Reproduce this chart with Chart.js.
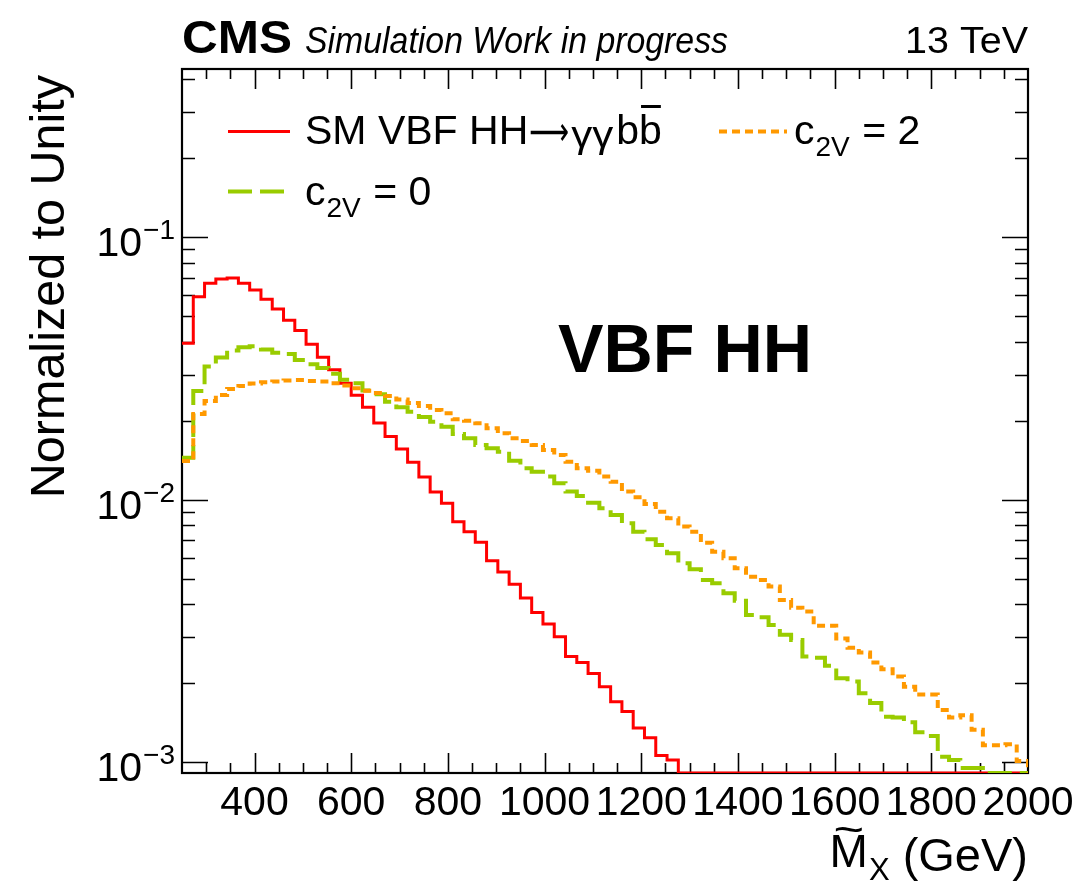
<!DOCTYPE html>
<html>
<head>
<meta charset="utf-8">
<title>VBF HH</title>
<script src="https://cdn.jsdelivr.net/npm/chart.js@4.4.0/dist/chart.umd.min.js"></script>
<style>
  html, body { margin: 0; padding: 0; background: #ffffff; }
  canvas { display: block; }
</style>
</head>
<body>
<canvas id="chart" width="1078" height="883"></canvas>
<script>
// Histogram binning of the reconstructed mass (GeV)
const histRange = [250, 2000];
const nBins = 75;

// Normalized bin contents, one entry per bin
const smVBF = [
  0.0395, 0.0594, 0.0668, 0.0694, 0.0700, 0.0668, 0.0630, 0.0580, 0.0533, 0.0483,
  0.0441, 0.0391, 0.0349, 0.0313, 0.0278, 0.0250, 0.0225, 0.0196, 0.0174, 0.0156,
  0.0139, 0.0122, 0.0107, 0.00970, 0.00825, 0.00756, 0.00689, 0.00585, 0.00531, 0.00477,
  0.00422, 0.00372, 0.00336, 0.00301, 0.00253, 0.00240, 0.00218, 0.00194, 0.00170, 0.00156,
  0.00135, 0.00124, 0.00106, 0.00102, 0, 0, 0, 0, 0, 0,
  0, 0, 0, 0, 0, 0, 0, 0, 0, 0,
  0, 0, 0, 0, 0, 0, 0, 0, 0, 0,
  0, 0, 0, 0, 0
];
const c2v0 = [
  0.01447, 0.02597, 0.0322, 0.03485, 0.03705, 0.03811, 0.03845, 0.03737, 0.03634, 0.03592,
  0.03408, 0.03282, 0.03177, 0.03022, 0.02867, 0.02778, 0.02609, 0.02523, 0.02364, 0.02251,
  0.02166, 0.02067, 0.01984, 0.01899, 0.01781, 0.01715, 0.01617, 0.01571, 0.01525, 0.01409,
  0.01318, 0.01279, 0.01225, 0.01156, 0.01074, 0.01034, 0.00975, 0.00928, 0.00875, 0.00814,
  0.00756, 0.00707, 0.00673, 0.00626, 0.00573, 0.00544, 0.00495, 0.00481, 0.00440, 0.00412,
  0.00364, 0.00357, 0.00333, 0.00306, 0.00292, 0.00253, 0.00250, 0.00233, 0.00209, 0.00203,
  0.00183, 0.00168, 0.00149, 0.00148, 0.00142, 0.00130, 0.00126, 0.00105, 0.00102, 0.00095,
  0.00095, 0, 0, 0, 0
];
const c2v2 = [
  0.01405, 0.02123, 0.02379, 0.02507, 0.02643, 0.02714, 0.02773, 0.02803, 0.02823, 0.02848,
  0.02861, 0.02836, 0.02823, 0.02778, 0.02725, 0.02659, 0.02604, 0.02552, 0.02485, 0.02410,
  0.02338, 0.02277, 0.02198, 0.02136, 0.02026, 0.02001, 0.01956, 0.01873, 0.01792, 0.01715,
  0.01675, 0.01617, 0.01548, 0.01481, 0.01397, 0.01318, 0.01291, 0.01225, 0.01172, 0.01074,
  0.01022, 0.00964, 0.00901, 0.00850, 0.00790, 0.00756, 0.00686, 0.00634, 0.00599, 0.00548,
  0.00509, 0.00495, 0.00467, 0.00415, 0.00388, 0.00375, 0.00331, 0.00331, 0.00296, 0.00273,
  0.00262, 0.00240, 0.00226, 0.00212, 0.00194, 0.00181, 0.00181, 0.00158, 0.00148, 0.00151,
  0.00133, 0.00116, 0.00116, 0.00117, 0.00101
];

// Axis ticks and ranges
const xTickLabels = [400, 600, 800, 1000, 1200, 1400, 1600, 1800, 2000];
const yTickValues = [0.001, 0.01, 0.1];
const yTickExponents = ['\u22123', '\u22122', '\u22121'];
const yRange = [0.00091, 0.4375];

const FONT = '"Liberation Sans", Arial, Helvetica, sans-serif';

// Outline of a histogram: one step per bin, empty bins sit on the axis floor,
// and the outline drops to the floor at the upper edge
function histOutline(values) {
  const w = (histRange[1] - histRange[0]) / nBins;
  const floor = v => (v > yRange[0] ? v : yRange[0]);
  const pts = values.map((v, i) => ({ x: histRange[0] + i * w, y: floor(v) }));
  pts.push({ x: histRange[1], y: floor(values[values.length - 1]) });
  pts.push({ x: histRange[1], y: yRange[0] });
  return pts;
}

function drawText(ctx, s, x, y, font, align) {
  ctx.font = font;
  ctx.textAlign = align || 'left';
  ctx.textBaseline = 'alphabetic';
  ctx.fillText(s, x, y);
  return ctx.measureText(s).width;
}

// Text squeezed or stretched horizontally to a given width
function drawFitted(ctx, s, x, y, font, width, align) {
  ctx.save();
  ctx.font = font;
  ctx.textBaseline = 'alphabetic';
  ctx.textAlign = 'left';
  const w = ctx.measureText(s).width;
  const k = width / w;
  const x0 = align === 'right' ? x - width : (align === 'center' ? x - width / 2 : x);
  ctx.translate(x0, y);
  ctx.scale(k, 1);
  ctx.fillText(s, 0, 0);
  ctx.restore();
  return width;
}

function legendSample(ctx, ds, x0, x1, y) {
  ctx.save();
  ctx.strokeStyle = ds.borderColor;
  ctx.lineWidth = ds.borderWidth;
  ctx.setLineDash(ds.borderDash || []);
  ctx.beginPath();
  ctx.moveTo(x0, y);
  ctx.lineTo(x1, y);
  ctx.stroke();
  ctx.restore();
}

// c_{2V} = k
function couplingLabel(ctx, x, y, k) {
  let cx = x;
  cx += drawText(ctx, 'c', cx, y, '41px ' + FONT);
  cx += drawText(ctx, '2V', cx + 1, y + 12, '28px ' + FONT) + 2;
  drawText(ctx, ' = ' + k, cx, y, '41px ' + FONT);
}

const rootFrame = {
  id: 'rootFrame',
  beforeDatasetsDraw(chart) {
    const { ctx, chartArea: a, scales: { x, y } } = chart;
    ctx.save();
    ctx.strokeStyle = '#000';
    ctx.lineWidth = 1.6;
    ctx.beginPath();
    // x-axis ticks, bottom and top, pointing inward
    for (let v = 300; v < histRange[1]; v += 50) {
      const px = Math.round(x.getPixelForValue(v)) + 0.5;
      const len = v % 200 === 0 ? 20 : 10;
      ctx.moveTo(px, a.bottom); ctx.lineTo(px, a.bottom - len);
      ctx.moveTo(px, a.top); ctx.lineTo(px, a.top + len);
    }
    // y-axis ticks, left and right
    for (let d = 0.0001; d < 1; d *= 10) {
      for (let m = 1; m <= 9; m++) {
        const v = m * d;
        if (v <= yRange[0] || v >= yRange[1]) continue;
        const py = Math.round(y.getPixelForValue(v)) + 0.5;
        const len = m === 1 ? 26 : 13;
        ctx.moveTo(a.left, py); ctx.lineTo(a.left + len, py);
        ctx.moveTo(a.right, py); ctx.lineTo(a.right - len, py);
      }
    }
    ctx.stroke();
    ctx.lineWidth = 2.2;
    ctx.strokeRect(a.left, a.top, a.right - a.left, a.bottom - a.top);
    ctx.restore();
  },
  afterDraw(chart) {
    const { ctx, scales: { x, y } } = chart;
    const ds = chart.data.datasets;
    ctx.save();
    ctx.fillStyle = '#000';

    // x tick labels
    xTickLabels.forEach(v => {
      drawText(ctx, String(v), x.getPixelForValue(v), 815, '41px ' + FONT, 'center');
    });

    // y tick labels 10^n
    yTickValues.forEach((v, i) => {
      const py = y.getPixelForValue(v);
      ctx.font = '28px ' + FONT;
      const ew = ctx.measureText(yTickExponents[i]).width;
      const right = 175;
      drawText(ctx, yTickExponents[i], right - ew, py + 2, '28px ' + FONT);
      drawText(ctx, '10', right - ew - 1, py + 19, '41px ' + FONT, 'right');
    });

    // y axis title
    ctx.save();
    ctx.translate(64, 75);
    ctx.rotate(-Math.PI / 2);
    drawText(ctx, 'Normalized to Unity', 0, 0, '48.5px ' + FONT, 'right');
    ctx.restore();

    // x axis title: M-tilde_X (GeV)
    let tx = 1028;
    const base = 871;
    const gev = ' (GeV)';
    ctx.font = '47px ' + FONT;
    const gw = ctx.measureText(gev).width;
    drawText(ctx, gev, tx, base, '47px ' + FONT, 'right');
    tx -= gw;
    ctx.font = '31px ' + FONT;
    const sw = ctx.measureText('X').width;
    drawText(ctx, 'X', tx - sw, base + 9, '31px ' + FONT);
    tx -= sw + 1;
    ctx.font = '46px ' + FONT;
    const mw = ctx.measureText('M').width;
    drawText(ctx, 'M', tx - mw, base - 4, '46px ' + FONT);
    drawFitted(ctx, '~', tx - mw / 2, base - 27, '42px ' + FONT, mw * 0.8, 'center');

    // header
    drawFitted(ctx, 'CMS', 182, 53, 'bold 47px ' + FONT, 110);
    drawFitted(ctx, 'Simulation Work in progress', 305, 53, 'italic 36px ' + FONT, 423);
    drawFitted(ctx, '13 TeV', 1028, 53, '37px ' + FONT, 123, 'right');

    // legend
    legendSample(ctx, ds[2], 228, 290, 131.5);
    let lx = 305;
    lx += drawText(ctx, 'SM VBF HH', lx, 144, '41px ' + FONT);
    lx += drawFitted(ctx, '\u27F6', lx + 1, 145, '40px "DejaVu Sans"', 40) + 3;
    lx += drawFitted(ctx, '\u03b3\u03b3', lx, 147, '36px ' + FONT, 42) + 3;
    ctx.font = '41px ' + FONT;
    const bw = ctx.measureText('b').width;
    drawText(ctx, 'bb', lx, 144, '41px ' + FONT);
    ctx.fillRect(lx + bw + 2, 105, bw - 3, 3);

    legendSample(ctx, ds[0], 719, 787, 131.5);
    couplingLabel(ctx, 794, 144, 2);

    legendSample(ctx, ds[1], 228, 290, 191.5);
    couplingLabel(ctx, 305, 205, 0);

    // process label
    drawFitted(ctx, 'VBF HH', 558, 372, 'bold 69px ' + FONT, 254);

    ctx.restore();
  }
};

new Chart(document.getElementById('chart'), {
  type: 'line',
  data: {
    datasets: [
      { label: 'c2V = 2', data: histOutline(c2v2), borderColor: '#ff9900', borderWidth: 4, borderDash: [8, 5], order: 1 },
      { label: 'c2V = 0', data: histOutline(c2v0), borderColor: '#99cc00', borderWidth: 4, borderDash: [24, 8], order: 2 },
      { label: 'SM VBF HH', data: histOutline(smVBF), borderColor: '#ff0000', borderWidth: 3, order: 3 }
    ]
  },
  options: {
    responsive: false,
    animation: false,
    events: [],
    layout: { padding: { left: 182, right: 50, top: 69, bottom: 110 } },
    elements: {
      point: { radius: 0 },
      // horizontal across each bin, vertical at the bin edge
      line: { stepped: 'before', tension: 0, fill: false, borderJoinStyle: 'miter', borderCapStyle: 'butt' }
    },
    scales: {
      x: { type: 'linear', min: histRange[0], max: histRange[1], display: false },
      y: { type: 'logarithmic', min: yRange[0], max: yRange[1], display: false }
    },
    plugins: { legend: { display: false }, tooltip: { enabled: false } }
  },
  plugins: [rootFrame]
});
</script>
</body>
</html>
